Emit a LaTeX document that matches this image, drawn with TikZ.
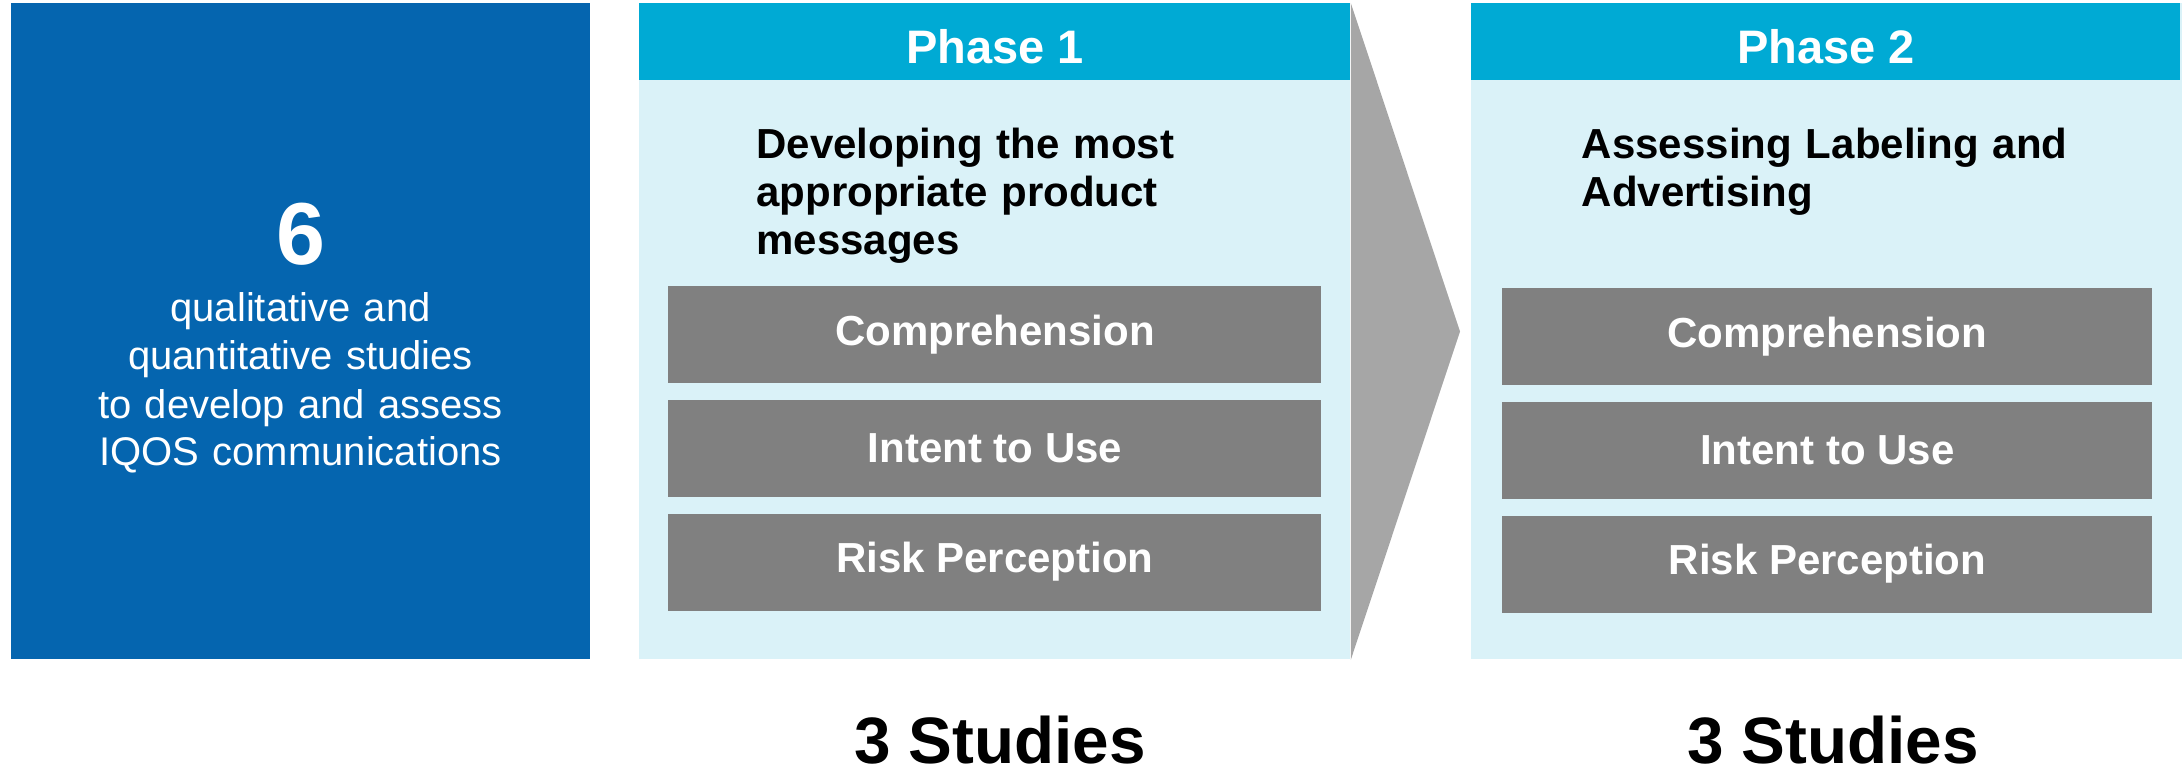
\documentclass[tikz,border=0pt]{standalone}
\usepackage{fontspec}
\setmainfont{Liberation Sans}
\usetikzlibrary{positioning}
\definecolor{Navy}{RGB}{5,101,175}
\definecolor{Cyan}{RGB}{0,170,212}
\definecolor{PaleCyan}{RGB}{218,242,248}
\definecolor{Slate}{RGB}{128,128,128}
\definecolor{Chevron}{RGB}{166,166,166}
\tikzset{
  summarybox/.style={fill=Navy,inner sep=0pt,anchor=north west,minimum width=289.5pt,minimum height=328pt},
  panelbox/.style={fill=PaleCyan,inner sep=0pt,anchor=north west,minimum width=355.5pt,minimum height=328pt},
  headbox/.style={fill=Cyan,inner sep=0pt,anchor=north west,minimum width=355.5pt,minimum height=38.5pt,
    text height=21.5pt,text depth=0pt,text=white,font=\fontsize{23.5}{26}\selectfont\bfseries},
  titletext/.style={inner sep=0pt,anchor=base west,text width=300pt,align=left,
    font=\fontsize{21}{24}\selectfont\bfseries},
  topicbox/.style={fill=Slate,inner sep=0pt,minimum width=326.5pt,minimum height=48.5pt,text=white,
    font=\fontsize{21}{24}\selectfont\bfseries},
  studies/.style={inner sep=0pt,anchor=base,font=\fontsize{32.8}{36}\selectfont\bfseries}
}
\begin{document}
\begin{tikzpicture}[x=0.5pt,y=0.5pt,node distance=8pt]
\useasboundingbox (0,0) rectangle (2183,772);
% left summary block
\node[summarybox] (summary) at (11,769) {};
\node[inner sep=0pt,anchor=base,text=white,font=\fontsize{44}{48}\selectfont\bfseries] (count) at (300.5,507) {6};
\node[inner sep=0pt,anchor=base,text=white,text width=280pt,align=center,font=\fontsize{20}{24}\selectfont] (desc) at (300.5,450)
  {qualitative and\\quantitative studies\\to develop and assess\\IQOS communications};
% phase 1
\node[panelbox] (panelA) at (639,769) {};
\node[headbox] (headA) at (639,769) {Phase 1};
\node[titletext] (titleA) at (756,613) {Developing the most\\appropriate product\\messages};
\node[topicbox,anchor=north west] (compA) at (668,486.4) {Comprehension};
\node[topicbox,below=of compA] (intentA) {Intent to Use};
\node[topicbox,below=of intentA] (riskA) {Risk Perception};
% chevron between phases
\coordinate (tip) at (1460,440.5);
\fill[Chevron] (panelA.north east) -- (tip) -- (panelA.south east) -- cycle;
% phase 2
\node[panelbox] (panelB) at (1471,769) {};
\node[headbox,minimum width=354.5pt] (headB) at (1471,769) {Phase 2};
\node[titletext] (titleB) at (1581.5,613) {Assessing Labeling and\\Advertising};
\node[topicbox,anchor=north west,minimum width=325pt] (compB) at (1502,484.4) {Comprehension};
\node[topicbox,minimum width=325pt,below=of compB] (intentB) {Intent to Use};
\node[topicbox,minimum width=325pt,below=of intentB] (riskB) {Risk Perception};
% study counts
\node[studies] (countA) at (1000,9) {3 Studies};
\node[studies] (countB) at (1833,9) {3 Studies};
\end{tikzpicture}
\end{document}
